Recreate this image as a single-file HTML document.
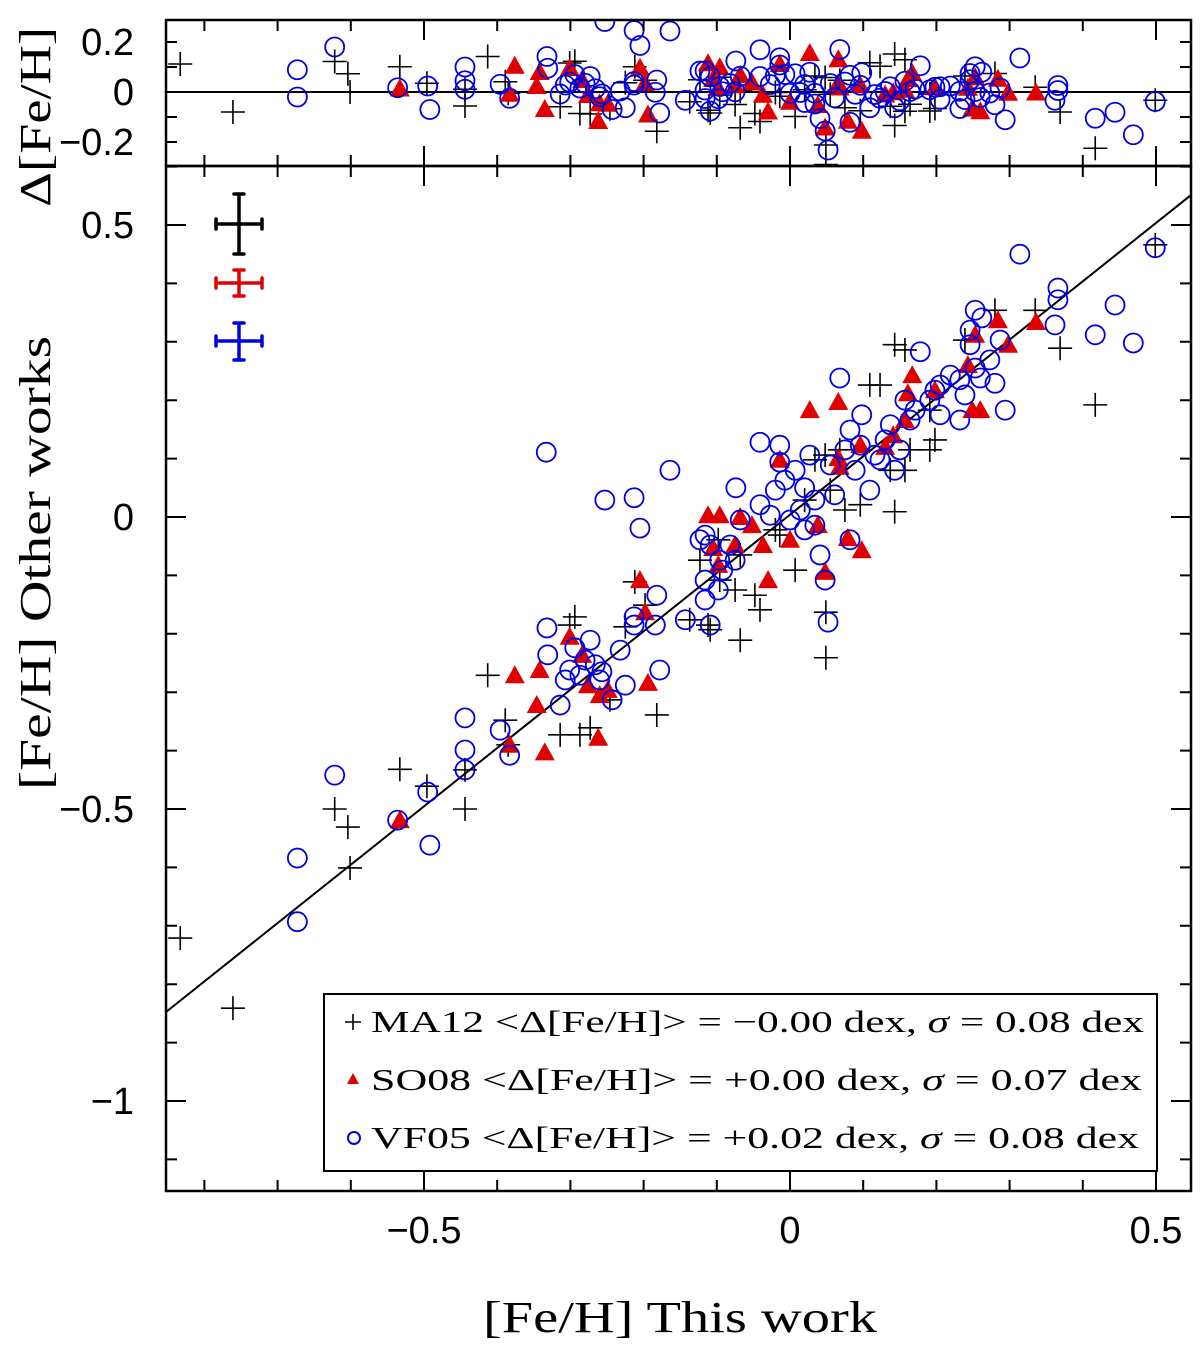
<!DOCTYPE html>
<html><head><meta charset="utf-8"><style>
html,body{margin:0;padding:0;background:#fff;}
svg{display:block;}
text{font-family:"Liberation Sans",sans-serif;}
.ser{font-family:"Liberation Serif",serif;}
</style></head><body>
<svg id="chart" width="1200" height="1346" viewBox="0 0 1200 1346" xmlns="http://www.w3.org/2000/svg">
<g id="main-marks"></g>
<g id="top-marks"></g>
<g id="axes"></g>
<g id="legend">
<rect x="324" y="994" width="833" height="177" fill="#fff" stroke="#000" stroke-width="2"/>
<g>
<path d="M345 1022h16M353 1014v16" stroke="#000" stroke-width="1.6"/>
<text x="371" y="1032" font-size="31" textLength="773" lengthAdjust="spacingAndGlyphs" class="ser">MA12 &lt;Δ[Fe/H]&gt; = −0.00 dex, <tspan font-style="italic">σ</tspan> = 0.08 dex</text></g>
<g>
<polygon points="353,1073 347,1084 359,1084" fill="#e00000"/>
<text x="371" y="1090" font-size="31" textLength="771" lengthAdjust="spacingAndGlyphs" class="ser">SO08 &lt;Δ[Fe/H]&gt; = +0.00 dex, <tspan font-style="italic">σ</tspan> = 0.07 dex</text></g>
<g>
<circle cx="354" cy="1138" r="6" fill="none" stroke="#0000e0" stroke-width="2"/>
<text x="371" y="1148" font-size="31" textLength="768" lengthAdjust="spacingAndGlyphs" class="ser">VF05 &lt;Δ[Fe/H]&gt; = +0.02 dex, <tspan font-style="italic">σ</tspan> = 0.08 dex</text></g>
</g>
<g stroke-width="3.5" stroke-linecap="round">
<g stroke="#000"><path d="M216 224h46M239 194v60M216 219v10M262 219v10M234 194h10M234 254h10"/></g>
<g stroke="#e00000"><path d="M216 283h46M239 270v26M216 278v10M262 278v10M234 270h10M234 296h10"/></g>
<g stroke="#0000e0"><path d="M216 341h46M239 323v37M216 336v10M262 336v10M234 323h10M234 360h10"/></g>
</g>
<text class="ser" x="483" y="1332" font-size="44" textLength="394" lengthAdjust="spacingAndGlyphs">[Fe/H] This work</text>
<text class="ser" transform="translate(50,790) rotate(-90)" font-size="44" textLength="454" lengthAdjust="spacingAndGlyphs">[Fe/H] Other works</text>
<text class="ser" transform="translate(50,207) rotate(-90)" font-size="44" textLength="180" lengthAdjust="spacingAndGlyphs">Δ[Fe/H]</text>
</svg>
<script>
const maX=[-0.833,-0.761,-0.533,-0.622,-0.604,-0.601,-0.496,-0.444,-0.444,-0.413,-0.389,-0.385,-0.314,-0.294,-0.301,-0.287,-0.273,-0.246,-0.225,-0.212,-0.198,-0.182,-0.137,-0.123,-0.112,-0.109,-0.098,-0.075,-0.068,-0.048,-0.041,-0.020,-0.014,0.007,0.020,0.034,0.048,0.049,0.049,0.068,0.075,0.096,0.109,0.123,0.137,0.143,0.143,0.157,0.164,0.191,0.191,0.198,0.239,0.280,0.335,0.369,0.417,0.499,0.157,0.055,-0.068,-0.096];
const maY=[-0.721,-0.841,-0.432,-0.500,-0.531,-0.601,-0.461,-0.433,-0.500,-0.271,-0.348,-0.390,-0.373,-0.171,-0.185,-0.373,-0.361,-0.313,-0.188,-0.111,-0.151,-0.339,-0.176,-0.074,-0.185,-0.193,-0.039,-0.125,-0.211,-0.134,-0.159,-0.022,-0.031,-0.091,0.029,0.098,0.106,-0.163,-0.241,0.115,0.012,0.021,0.226,0.226,0.080,0.009,0.295,0.286,0.115,0.115,0.183,0.132,0.303,0.354,0.354,0.289,0.192,0.466,0.080,0.046,-0.065,-0.108];
const soX=[-0.533,-0.383,-0.376,-0.346,-0.342,-0.335,-0.301,-0.284,-0.276,-0.262,-0.260,-0.249,-0.205,-0.198,-0.194,-0.112,-0.105,-0.096,-0.098,-0.068,-0.075,-0.052,-0.037,-0.030,-0.014,0.000,0.027,0.038,0.048,0.066,0.066,0.068,0.079,0.098,0.096,0.130,0.141,0.157,0.161,0.167,0.198,0.243,0.249,0.260,0.253,0.284,0.298,0.336];
const soY=[-0.519,-0.390,-0.271,-0.322,-0.262,-0.403,-0.205,-0.236,-0.288,-0.378,-0.305,-0.296,-0.108,-0.163,-0.284,0.003,-0.053,0.003,-0.082,0.000,-0.048,-0.014,-0.048,-0.108,0.098,-0.039,0.183,-0.014,-0.094,0.197,0.101,0.086,-0.036,-0.057,0.123,0.120,0.140,0.166,0.212,0.243,0.217,0.260,0.183,0.183,0.312,0.337,0.295,0.334];
const vfX=[-0.673,-0.673,-0.622,-0.536,-0.495,-0.492,-0.444,-0.444,-0.444,-0.396,-0.383,-0.333,-0.332,-0.331,-0.314,-0.307,-0.301,-0.294,-0.287,-0.280,-0.273,-0.266,-0.260,-0.257,-0.253,-0.243,-0.232,-0.213,-0.213,-0.205,-0.213,-0.184,-0.182,-0.164,-0.143,-0.123,-0.116,-0.116,-0.109,-0.116,-0.109,-0.096,-0.092,-0.098,-0.082,-0.075,-0.074,-0.068,-0.041,-0.041,-0.027,-0.020,-0.014,-0.007,0.000,0.007,0.014,0.020,0.020,0.027,0.034,0.041,0.055,0.061,0.048,0.052,0.068,0.075,0.082,0.089,0.096,0.098,0.109,0.116,0.123,0.130,0.137,0.143,0.150,0.157,0.164,0.171,0.178,0.191,0.198,0.205,0.219,0.232,0.239,0.246,0.253,0.260,0.273,0.280,0.287,0.294,0.314,0.362,0.366,0.366,0.417,0.444,0.469,0.499,0.253,0.262,0.246,0.205,0.232,-0.178,-0.225,-0.014,0.034,0.082];
const vfY=[-0.584,-0.693,-0.442,-0.519,-0.471,-0.562,-0.344,-0.399,-0.433,-0.365,-0.408,0.111,-0.190,-0.236,-0.322,-0.279,-0.262,-0.224,-0.271,-0.245,-0.211,-0.253,-0.279,-0.265,0.029,-0.313,-0.228,-0.185,0.033,-0.019,-0.171,-0.185,-0.134,0.080,-0.176,-0.039,-0.031,-0.108,-0.048,-0.142,-0.185,-0.074,-0.091,-0.125,-0.048,-0.074,0.050,-0.005,0.128,0.021,0.003,0.046,0.094,0.063,-0.005,0.080,0.012,0.050,-0.022,0.106,0.029,-0.065,0.089,0.038,-0.108,-0.180,0.238,0.115,0.149,0.080,0.123,0.175,0.046,0.106,0.098,0.132,0.158,0.080,0.115,0.200,0.166,0.183,0.283,0.200,0.217,0.226,0.243,0.235,0.209,0.295,0.255,0.238,0.269,0.229,0.303,0.183,0.450,0.329,0.392,0.372,0.312,0.363,0.298,0.461,0.354,0.341,0.320,0.175,0.166,-0.262,-0.288,0.123,-0.014,-0.039];
const xTicks=[-0.5,0,0.5];
const yTicks=[0.5,0,-0.5,-1];
const dTicks=[0.2,0,-0.2];
const xTickLabels=["−0.5","0","0.5"];
const yTickLabels=["0.5","0","−0.5","−1"];
const dTickLabels=["0.2","0","−0.2"];
const fitSlope=[0.999];
const fitIntercept=[0.004];

const L=166,R=1191,MT=166,MB=1191,TT=20;
const sx=v=>790+v*732;
const sy=v=>517-v*584;
const sd=v=>92-v*250;
const NS="http://www.w3.org/2000/svg";
function mk(tag,attrs,parent){const e=document.createElementNS(NS,tag);for(const k in attrs)e.setAttribute(k,attrs[k]);parent.appendChild(e);return e;}
const mainG=document.getElementById('main-marks'),topG=document.getElementById('top-marks'),ax=document.getElementById('axes');
const defs=mk('defs',{},document.getElementById('chart'));
const c1=mk('clipPath',{id:'cm'},defs);mk('rect',{x:L,y:MT,width:R-L,height:MB-MT},c1);
const c2=mk('clipPath',{id:'ct'},defs);mk('rect',{x:L,y:TT,width:R-L,height:MT-TT},c2);
mainG.setAttribute('clip-path','url(#cm)');topG.setAttribute('clip-path','url(#ct)');
const x0=-0.86,x1=0.55;
const fl=mk('line',{x1:sx(x0),y1:sy(fitSlope[0]*x0+fitIntercept[0]),x2:sx(x1),y2:sy(fitSlope[0]*x1+fitIntercept[0]),stroke:'#000','stroke-width':2},mainG);


const zl=mk('line',{x1:L,y1:sd(0),x2:R,y2:sd(0),stroke:'#000','stroke-width':2},topG);


function plus(g,cx,cy,n){const p=mk('path',{d:`M${cx-12} ${cy}h24M${cx} ${cy-12}v24`,stroke:'#000','stroke-width':1.6,fill:'none'},g);

}
function tri(g,cx,cy,n){const p=mk('polygon',{points:`${cx},${cy-10} ${cx-10},${cy+8} ${cx+10},${cy+8}`,fill:'#e00000'},g);

}
function circ(g,cx,cy,n){const p=mk('circle',{cx:cx,cy:cy,r:9.5,fill:'none',stroke:'#0000e0','stroke-width':1.8},g);

}
maX.forEach((v,i)=>{plus(mainG,sx(v),sy(maY[i]),'ma12-point');plus(topG,sx(v),sd(maY[i]-v),'ma12-residual');});
soX.forEach((v,i)=>{tri(mainG,sx(v),sy(soY[i]),'so08-point');tri(topG,sx(v),sd(soY[i]-v),'so08-residual');});
vfX.forEach((v,i)=>{circ(mainG,sx(v),sy(vfY[i]),'vf05-point');circ(topG,sx(v),sd(vfY[i]-v),'vf05-residual');});
const f1=mk('rect',{x:L,y:MT,width:R-L,height:MB-MT,fill:'none',stroke:'#000','stroke-width':2.5},ax);


const f2=mk('rect',{x:L,y:TT,width:R-L,height:MT-TT,fill:'none',stroke:'#000','stroke-width':2.5},ax);


let d='';
for(let k=-8;k<=5;k++){const v=k/10,x=sx(v);if(x<L||x>R)continue;const maj=(k%5===0);const len=maj?20:11;
d+=`M${x} ${MB}v${-len}M${x} ${MT}v${len}M${x} ${MT}v${-len}M${x} ${TT}v${len}`;}
for(let k=-11;k<=6;k++){const v=k/10,y=sy(v);if(y<MT||y>MB)continue;const maj=(k%5===0);const len=maj?20:11;
d+=`M${L} ${y}h${len}M${R} ${y}h${-len}`;}
for(let k=-2;k<=2;k++){const v=k/10,y=sd(v);const len=(k===0)?20:11;d+=`M${L} ${y}h${len}M${R} ${y}h${-len}`;}
const tk=mk('path',{d:d,stroke:'#000','stroke-width':2,fill:'none'},ax);


xTicks.forEach((v,i)=>{const t=mk('text',{x:sx(v),y:1243,'font-size':38,'text-anchor':'middle'},ax);t.textContent=xTickLabels[i];

});
yTicks.forEach((v,i)=>{const t=mk('text',{x:134,y:sy(v)+13,'font-size':38,'text-anchor':'end'},ax);t.textContent=yTickLabels[i];

});
dTicks.forEach((v,i)=>{const t=mk('text',{x:134,y:sd(v)+13,'font-size':38,'text-anchor':'end'},ax);t.textContent=dTickLabels[i];

});
</script>
</body></html>
